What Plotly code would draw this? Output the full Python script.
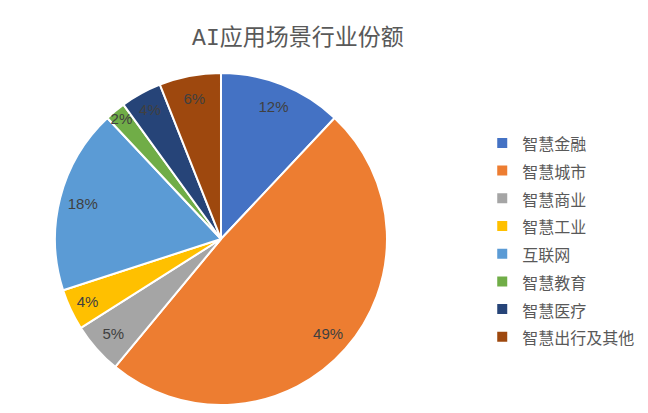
import plotly.graph_objects as go

# 行业份额数据
labels = ["智慧金融", "智慧城市", "智慧商业", "智慧工业", "互联网", "智慧教育", "智慧医疗", "智慧出行及其他"]
values = [12, 49, 5, 4, 18, 2, 4, 6]
colors = ["#4472C4", "#ED7D31", "#A5A5A5", "#FFC000", "#5B9BD5", "#70AD47", "#264478", "#9E480E"]

font_cjk = "Noto Sans CJK SC"
# 页面自带 8px 边距，所以画布取 640x405
pie_domain = dict(x=[0.0734, 0.5922], y=[0.0198, 0.8395])

# 图例文字用较小字号，行距由图例字号决定
legend_labels = ['<span style="font-size:16px">%s</span>' % s for s in labels]

fig = go.Figure()
# 扇区
fig.add_trace(go.Pie(
    labels=legend_labels, values=values, sort=False, direction="clockwise", rotation=0,
    marker=dict(colors=colors, line=dict(color="white", width=2)),
    textinfo="none", domain=pie_domain,
    hovertext=labels, hoverinfo="text+percent",
))
# 百分比标签（透明环形，使标签靠近外缘）
fig.add_trace(go.Pie(
    labels=labels, values=values, sort=False, direction="clockwise", rotation=0,
    hole=0.72, showlegend=False,
    marker=dict(colors=["rgba(0,0,0,0)"] * len(values), line=dict(width=0)),
    texttemplate="%{percent:.0%}", textposition="inside", insidetextorientation="horizontal",
    textfont=dict(family="Liberation Sans Narrow, Liberation Sans", size=15, color="#404040"),
    domain=pie_domain, hoverinfo="skip",
))

fig.update_layout(
    width=640, height=405,
    margin=dict(l=0, r=0, t=0, b=0),
    paper_bgcolor="white",
    title=dict(text="AI应用场景行业份额", x=0.453, xanchor="center", y=0.928, yanchor="middle",
               font=dict(family="Liberation Mono, " + font_cjk, size=23, color="#595959")),
    legend=dict(x=0.741, y=0.427, xanchor="left", yanchor="middle",
                font=dict(family=font_cjk, size=19, color="#595959"),
                itemwidth=30),
    uniformtext=dict(minsize=15, mode="show"),
)

fig.write_html("out.html")
